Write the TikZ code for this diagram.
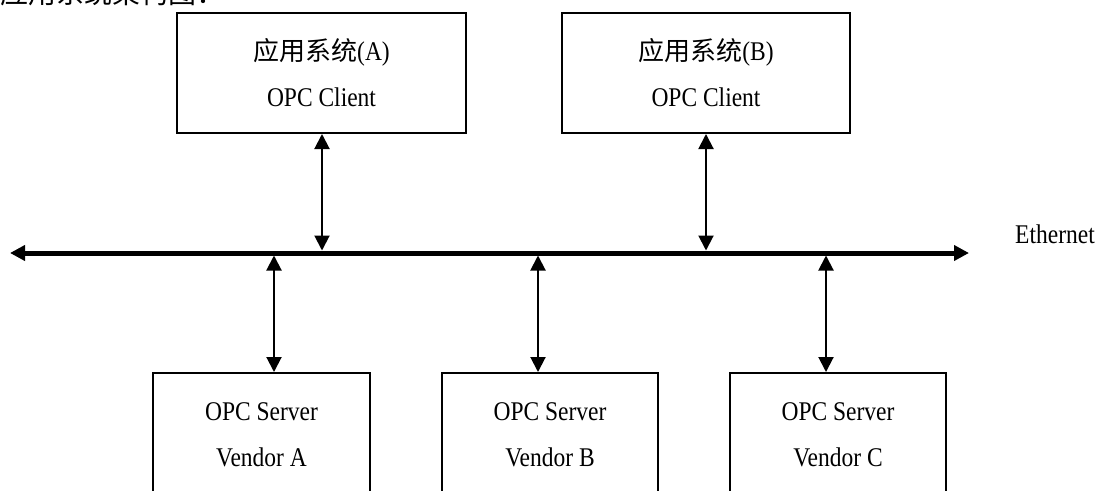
\documentclass[tikz,border=0pt]{standalone}
\usepackage{fontspec}
\setmainfont{Liberation Serif}[FakeStretch=0.87]
\newfontfamily\cjk{Noto Sans CJK SC}
\usetikzlibrary{arrows.meta}
\tikzset{
  box/.style={draw, line width=2pt, minimum width=#1, align=center, inner sep=0pt,
    font=\fontsize{27}{46}\selectfont},
  arr/.style={line width=2pt, {Triangle[length=15pt,width=15pt]}-{Triangle[length=15pt,width=15pt]}},
  bus/.style={line width=5pt, {Triangle[length=15pt,width=15pt]}-{Triangle[length=15pt,width=15pt]}}
}
\begin{document}
\begin{tikzpicture}[x=1pt,y=-1pt]
\useasboundingbox (0,0) rectangle (1107,490);
\clip (0,0) rectangle (1107,490);
\fill[white] (0,0) rectangle (1107,490);
% clipped heading
\node[anchor=base west, inner sep=0pt, font=\cjk\fontsize{28}{28}\selectfont] (title) at (0,3) {应用系统架构图：};
% top boxes
\node[box=289pt, minimum height=120pt] (ca) at (321.5,73) {{\cjk\fontsize{26}{26}\selectfont 应用系统}(A)\\OPC Client};
\node[box=288pt, minimum height=120pt] (cb) at (706,73) {{\cjk\fontsize{26}{26}\selectfont 应用系统}(B)\\OPC Client};
% bottom boxes
\node[box=217pt, minimum height=124pt] (sa) at (261.5,435) {OPC Server\\Vendor A};
\node[box=216pt, minimum height=124pt] (sb) at (550,435) {OPC Server\\Vendor B};
\node[box=216pt, minimum height=124pt] (sc) at (838,435) {OPC Server\\Vendor C};
% bus
\coordinate (busL) at (10,253);
\coordinate (busR) at (969,253);
\draw[bus] (busL) -- (busR);
\node[anchor=base west, inner sep=0pt, font=\fontsize{27}{30}\selectfont] (eth) at (1015,243) {Ethernet};
% connection points on the bus
\coordinate (pa) at (322,250.5);
\coordinate (pb) at (706,250.5);
\coordinate (qa) at (274,255.5);
\coordinate (qb) at (538,255.5);
\coordinate (qc) at (826,255.5);
\draw[arr] (ca.south -| pa) -- (pa);
\draw[arr] (cb.south -| pb) -- (pb);
\draw[arr] (qa) -- (qa |- sa.north);
\draw[arr] (qb) -- (qb |- sb.north);
\draw[arr] (qc) -- (qc |- sc.north);
\end{tikzpicture}
\end{document}
